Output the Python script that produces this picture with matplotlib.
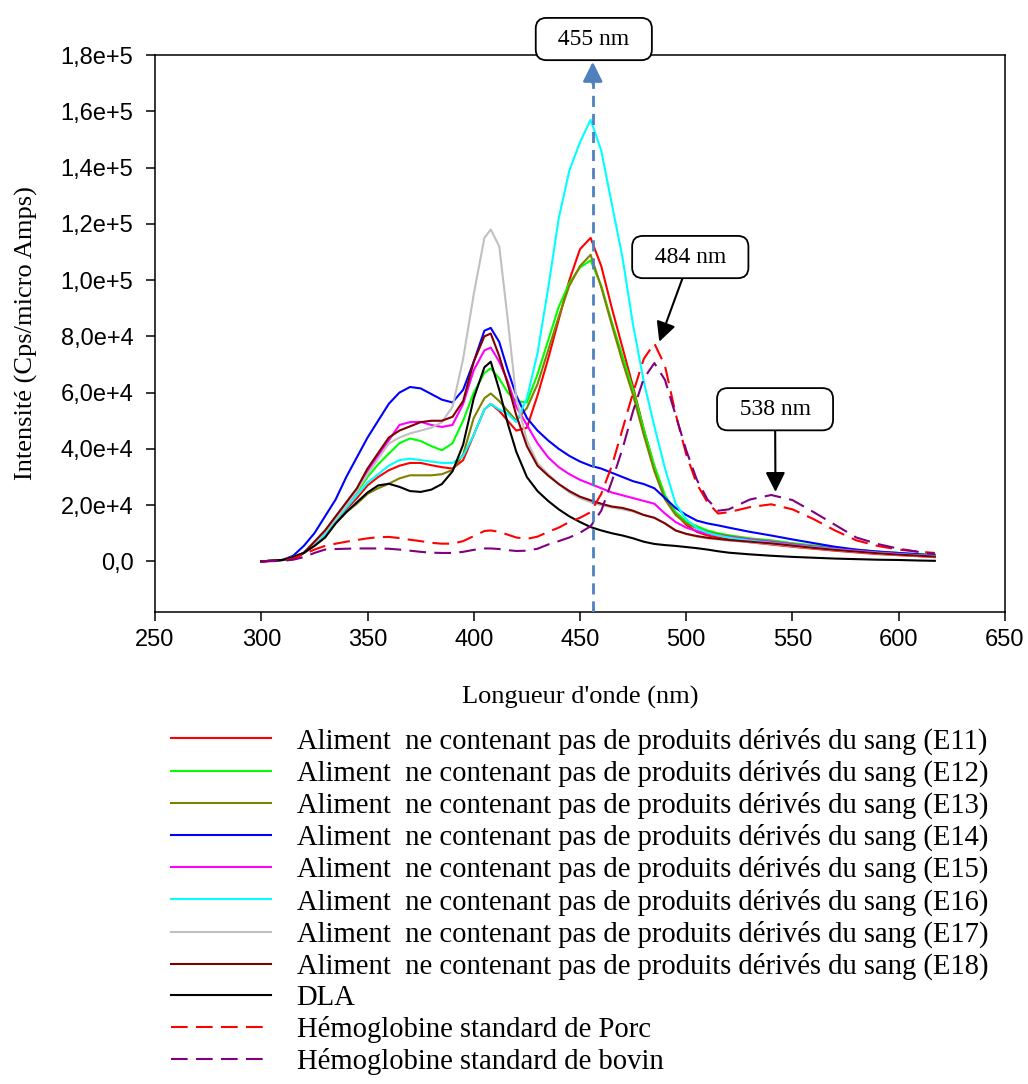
import numpy as np
import matplotlib
matplotlib.use('Agg')
import matplotlib.pyplot as plt

# wavelength grid (nm), intensities below are in units of 1e4 Cps/micro Amps
wl = [300, 310, 315, 320, 325, 330, 335, 340, 345, 350, 355, 360, 365, 370, 375,
      380, 385, 390, 395, 400, 405, 408, 412, 416, 420, 425, 430, 435, 440, 445,
      450, 455, 460, 465, 470, 475, 480, 485, 490, 495, 500, 505, 510, 515, 520,
      530, 540, 550, 560, 570, 580, 590, 600, 610, 617]

e11 = [0, 0.05, 0.15, 0.3, 0.6, 0.95, 1.45, 1.85, 2.25, 2.7, 3.0, 3.24, 3.4, 3.5, 3.5,
       3.42, 3.35, 3.3, 3.6, 4.5, 5.4, 5.6, 5.35, 5.0, 4.65, 4.75, 5.9, 7.2, 8.6, 10.0,
       11.1, 11.5, 10.5, 9.0, 7.6, 6.2, 4.7, 3.35, 2.3, 1.7, 1.3, 1.05, 0.92, 0.85, 0.78,
       0.68, 0.6, 0.52, 0.45, 0.38, 0.32, 0.26, 0.22, 0.18, 0.15]
e12 = [0, 0.05, 0.15, 0.3, 0.65, 1.05, 1.5, 2.0, 2.45, 3.0, 3.45, 3.83, 4.2, 4.37, 4.28,
       4.1, 3.95, 4.2, 5.0, 6.0, 6.7, 6.86, 6.5, 6.0, 5.7, 5.65, 6.65, 7.85, 9.05, 9.9,
       10.45, 10.7, 9.8, 8.5, 7.3, 6.1, 4.7, 3.4, 2.35, 1.75, 1.42, 1.25, 1.1, 1.0, 0.93,
       0.82, 0.75, 0.65, 0.57, 0.49, 0.41, 0.35, 0.3, 0.26, 0.24]
e13 = [0, 0.05, 0.15, 0.3, 0.55, 0.85, 1.35, 1.75, 2.05, 2.4, 2.6, 2.76, 2.95, 3.06, 3.06,
       3.06, 3.1, 3.25, 3.8, 5.1, 5.8, 5.97, 5.7, 5.35, 5.0, 5.45, 6.3, 7.5, 8.7, 9.8,
       10.5, 10.9, 9.75, 8.4, 7.1, 5.9, 4.5, 3.2, 2.2, 1.65, 1.35, 1.18, 1.05, 0.96, 0.9,
       0.78, 0.7, 0.6, 0.52, 0.45, 0.38, 0.32, 0.27, 0.23, 0.2]
e14 = [0, 0.05, 0.2, 0.55, 1.0, 1.6, 2.2, 3.0, 3.7, 4.4, 5.0, 5.6, 6.0, 6.2, 6.15,
       5.95, 5.75, 5.65, 6.1, 7.1, 8.2, 8.3, 7.8, 6.8, 5.9, 5.1, 4.65, 4.3, 4.0, 3.75,
       3.55, 3.4, 3.3, 3.15, 3.0, 2.85, 2.75, 2.6, 2.25, 1.9, 1.65, 1.45, 1.35, 1.28, 1.2,
       1.05, 0.92, 0.78, 0.65, 0.52, 0.42, 0.35, 0.3, 0.25, 0.21]
e15 = [0, 0.05, 0.15, 0.3, 0.65, 1.05, 1.5, 2.0, 2.5, 3.2, 3.75, 4.3, 4.85, 4.95, 4.96,
       4.85, 4.78, 4.85, 5.6, 6.8, 7.5, 7.6, 7.1, 6.4, 5.5, 4.85, 4.2, 3.7, 3.35, 3.1,
       2.9, 2.75, 2.6, 2.45, 2.35, 2.25, 2.15, 2.05, 1.7, 1.4, 1.2, 1.08, 0.98, 0.92, 0.87,
       0.78, 0.7, 0.61, 0.53, 0.45, 0.38, 0.32, 0.27, 0.22, 0.2]
e16 = [0, 0.05, 0.15, 0.3, 0.6, 0.95, 1.45, 1.9, 2.35, 2.8, 3.1, 3.4, 3.6, 3.65, 3.6,
       3.55, 3.5, 3.5, 3.75, 4.5, 5.4, 5.6, 5.4, 5.25, 4.95, 5.8, 7.4, 9.7, 12.2, 13.9,
       14.9, 15.7, 14.6, 12.7, 10.8, 8.4, 6.4, 4.8, 3.3, 2.05, 1.5, 1.18, 1.02, 0.92, 0.85,
       0.74, 0.66, 0.57, 0.5, 0.43, 0.36, 0.3, 0.25, 0.21, 0.19]
e17 = [0, 0.05, 0.15, 0.3, 0.65, 1.05, 1.5, 2.0, 2.5, 3.1, 3.65, 4.19, 4.4, 4.55, 4.65,
       4.75, 4.95, 5.5, 7.2, 9.5, 11.5, 11.8, 11.2, 8.6, 5.8, 4.3, 3.5, 3.1, 2.75, 2.45,
       2.25, 2.1, 2.0, 1.92, 1.85, 1.77, 1.65, 1.55, 1.35, 1.1, 0.97, 0.88, 0.82, 0.78, 0.74,
       0.68, 0.62, 0.54, 0.47, 0.4, 0.34, 0.28, 0.23, 0.19, 0.16]
e18 = [0, 0.05, 0.15, 0.3, 0.7, 1.1, 1.6, 2.1, 2.6, 3.3, 3.85, 4.4, 4.65, 4.8, 4.95,
       5.0, 5.0, 5.14, 5.7, 7.1, 8.0, 8.1, 7.3, 6.3, 5.2, 4.1, 3.4, 3.05, 2.75, 2.5,
       2.3, 2.17, 2.05, 1.95, 1.9, 1.8, 1.65, 1.55, 1.35, 1.1, 0.98, 0.9, 0.84, 0.8, 0.76,
       0.7, 0.64, 0.56, 0.48, 0.41, 0.35, 0.29, 0.24, 0.2, 0.17]
dla = [0, 0.05, 0.15, 0.3, 0.55, 0.85, 1.35, 1.75, 2.1, 2.45, 2.7, 2.76, 2.65, 2.5, 2.47,
       2.55, 2.75, 3.2, 4.15, 5.8, 6.9, 7.1, 6.1, 4.9, 3.9, 3.0, 2.5, 2.15, 1.85, 1.6,
       1.4, 1.22, 1.1, 1.0, 0.92, 0.82, 0.7, 0.62, 0.58, 0.55, 0.51, 0.47, 0.42, 0.36, 0.31,
       0.25, 0.2, 0.16, 0.13, 0.1, 0.08, 0.06, 0.05, 0.03, 0.02]
porc = [0, 0.03, 0.1, 0.25, 0.42, 0.55, 0.63, 0.7, 0.76, 0.82, 0.86, 0.87, 0.83, 0.77, 0.72,
        0.66, 0.63, 0.63, 0.72, 0.9, 1.08, 1.1, 1.05, 0.95, 0.85, 0.8, 0.88, 1.05, 1.2, 1.4,
        1.55, 1.75, 2.4, 3.4, 4.7, 6.0, 7.2, 7.75, 6.95, 5.25, 3.8, 2.75, 2.1, 1.7, 1.75,
        1.93, 2.03, 1.85, 1.5, 1.1, 0.75, 0.55, 0.42, 0.34, 0.3]
bovin = [0, 0.02, 0.06, 0.15, 0.3, 0.42, 0.44, 0.45, 0.46, 0.46, 0.46, 0.45, 0.42, 0.38, 0.34,
         0.31, 0.3, 0.3, 0.34, 0.41, 0.46, 0.46, 0.44, 0.4, 0.37, 0.38, 0.45, 0.6, 0.72, 0.85,
         1.02, 1.25, 1.8, 2.85, 4.0, 5.35, 6.5, 7.05, 6.45, 5.2, 3.95, 2.9, 2.2, 1.8, 1.85,
         2.2, 2.36, 2.18, 1.75, 1.3, 0.85, 0.62, 0.45, 0.33, 0.27]

base = "Aliment  ne contenant pas de produits dérivés du sang"
series = [
    (e11, f"{base} (E11)", "#FF0000", "-"),
    (e12, f"{base} (E12)", "#00FF00", "-"),
    (e13, f"{base} (E13)", "#808000", "-"),
    (e14, f"{base} (E14)", "#0000FF", "-"),
    (e15, f"{base} (E15)", "#FF00FF", "-"),
    (e16, f"{base} (E16)", "#00FFFF", "-"),
    (e17, f"{base} (E17)", "#C0C0C0", "-"),
    (e18, f"{base} (E18)", "#800000", "-"),
    (dla, "DLA", "#000000", "-"),
    (porc, "Hémoglobine standard de Porc", "#FF0000", "--"),
    (bovin, "Hémoglobine standard de bovin", "#800080", "--"),
]

x_ticks = [250, 300, 350, 400, 450, 500, 550, 600, 650]
y_ticks = [0, 2e4, 4e4, 6e4, 8e4, 1e5, 1.2e5, 1.4e5, 1.6e5, 1.8e5]
y_labels = ["0,0", "2,0e+4", "4,0e+4", "6,0e+4", "8,0e+4", "1,0e+5",
            "1,2e+5", "1,4e+5", "1,6e+5", "1,8e+5"]

serif = "Liberation Serif"
sans = "Liberation Sans"

fig = plt.figure(figsize=(10.28, 10.84), dpi=100)
ax = fig.add_axes([0.1508, 0.4354, 0.8268, 0.5138])

handles = []
x = np.array(wl)
for vals, label, color, ls in series:
    line, = ax.plot(x, np.array(vals) * 1e4, color=color, lw=1.5, label=label)
    if ls == "--":
        line.set_dashes((8, 4))
    handles.append(line)

# 455 nm marker line
ax.plot([456, 456], [-1.8e4, 1.74e5], color="#4F81BD", lw=2, dashes=(4, 2.5), zorder=5)
ax.annotate("", xy=(456, 1.776e5), xytext=(456, 1.70e5),
            arrowprops=dict(arrowstyle="-|>,head_length=0.7,head_width=0.35",
                            color="#4F81BD", lw=2, shrinkA=0, shrinkB=0),
            fontsize=17, annotation_clip=False, zorder=6)

box = dict(boxstyle="round,pad=0.45", fc="white", ec="black", lw=1.3)
ax.text(456.5, 1.857e5, "  455 nm  ", fontsize=17, family=serif, ha="center",
        va="center", bbox=box, clip_on=False, zorder=7)

arrow = dict(arrowstyle="-|>,head_length=0.7,head_width=0.35", color="black",
             lw=1.5, shrinkA=0, shrinkB=0)
ax.annotate("  484 nm  ", xy=(487.3, 7.81e4), xytext=(501.9, 1.082e5),
            fontsize=17, family=serif, ha="center", va="center", bbox=box,
            arrowprops=arrow, zorder=7)
ax.annotate("  538 nm  ", xy=(542, 2.47e4), xytext=(541.8, 5.41e4),
            fontsize=17, family=serif, ha="center", va="center", bbox=box,
            arrowprops=arrow, zorder=7)

ax.set_xlim(250, 650)
ax.set_ylim(-1.8e4, 1.8e5)
ax.set_xticks(x_ticks)
ax.set_xticklabels([str(t) for t in x_ticks], fontsize=17, family=sans)
ax.set_yticks(y_ticks)
ax.set_yticklabels(y_labels, fontsize=17, family=sans)
ax.tick_params(direction="out", length=6.5, width=1.1, pad=9)
ax.tick_params(axis="x", pad=6)
for sp in ax.spines.values():
    sp.set_linewidth(1.1)

ax.set_xlabel("Longueur d'onde (nm)", fontsize=19, family=serif, labelpad=25)
ax.set_ylabel("Intensité (Cps/micro Amps)", fontsize=19, family=serif, labelpad=16)

fig.legend(handles=handles, loc="upper left", bbox_to_anchor=(0.166, 0.329),
           frameon=False, prop={"family": serif, "size": 20.6}, handlelength=3.5,
           handletextpad=0.9, labelspacing=0.17, borderpad=0, borderaxespad=0)

plt.savefig("out.png", dpi=100, facecolor="white")
plt.close()
